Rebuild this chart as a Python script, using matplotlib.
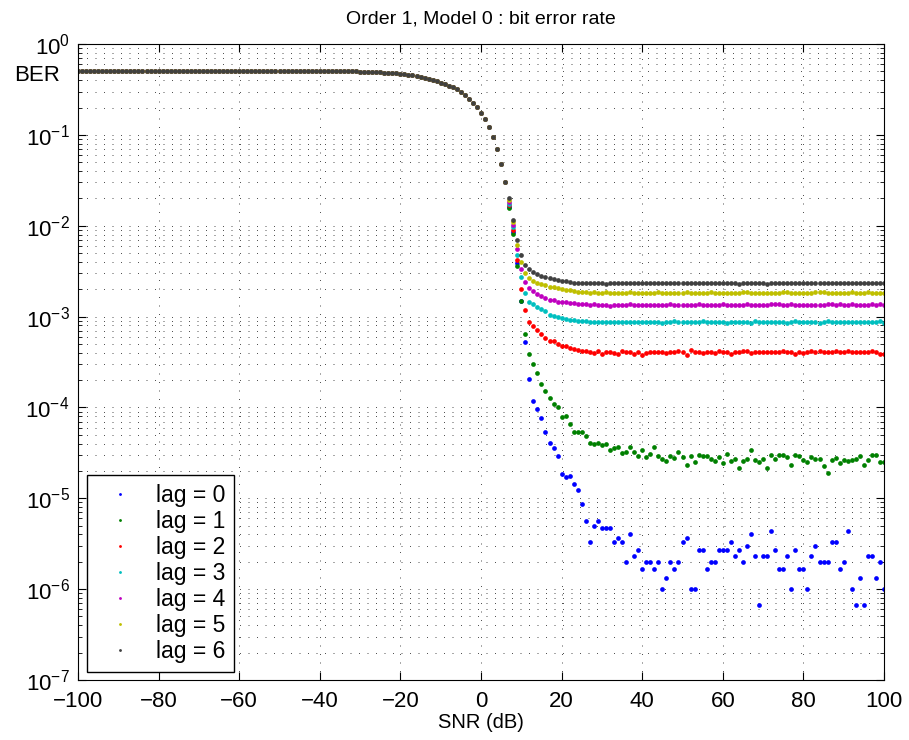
import numpy as np
import matplotlib
matplotlib.use('Agg')
from matplotlib import pyplot as plt
from matplotlib.ticker import NullFormatter

plt.rcParams['font.family'] = ['Liberation Sans', 'DejaVu Sans']

snr = list(range(-100, 101))

# BER comun a todos los lags, SNR -100 .. 6 dB
ber_comun = [
    0.5, 0.5, 0.5, 0.5, 0.5, 0.5, 0.5, 0.5, 0.5, 0.5,
    0.5, 0.5, 0.5, 0.5, 0.5, 0.5, 0.5, 0.5, 0.5, 0.5,
    0.5, 0.5, 0.5, 0.5, 0.5, 0.5, 0.5, 0.5, 0.5, 0.5,
    0.5, 0.5, 0.5, 0.5, 0.5, 0.5, 0.5, 0.5, 0.5, 0.5,
    0.5, 0.5, 0.5, 0.5, 0.5, 0.5, 0.5, 0.5, 0.5, 0.5,
    0.5, 0.5, 0.5, 0.5, 0.5, 0.5, 0.5, 0.5, 0.5, 0.5,
    0.5, 0.5, 0.5, 0.5, 0.5, 0.5, 0.5, 0.5, 0.5, 0.5,
    0.497, 0.496, 0.494, 0.492, 0.490, 0.488, 0.485, 0.482, 0.478, 0.474,
    0.470, 0.465, 0.460, 0.454, 0.447, 0.437, 0.426, 0.414, 0.400, 0.389,
    0.375, 0.363, 0.348, 0.335, 0.318, 0.298, 0.275, 0.250, 0.226, 0.201,
    0.176, 0.149, 0.121, 0.094, 0.070, 0.048, 0.0305,
]

# cada lag, SNR 7 .. 100 dB (valores escalados)
lag0 = [  # x1e-6
    16200, 8600, 3900, 1500, 530, 205, 118, 96, 76, 53,
    41, 36, 29, 18.6, 17.1, 17.5,
    14.2, 12.3, 8.67, 5.67, 3.33, 5.0, 5.67, 4.67, 4.67, 4.67,
    3.33, 3.67, 3.33, 2.0, 4.0, 2.33, 2.67, 1.67, 2.0, 2.0,
    1.67, 2.0, 1.0, 1.33, 2.0, 1.67, 2.0, 3.33, 3.67, 1.0,
    1.0, 2.67, 2.67, 1.67, 2.0, 2.0, 2.67, 2.67, 2.67, 3.33,
    2.33, 2.67, 2.0, 3.0, 4.0, 2.33, 0.667, 2.33, 2.33, 4.33,
    2.67, 1.67, 1.67, 2.33, 1.0, 2.67, 1.67, 1.67, 1.0, 2.33,
    3.0, 2.0, 2.0, 2.0, 3.33, 3.33, 1.67, 2.0, 4.33, 1.0,
    0.667, 1.33, 0.667, 2.33, 2.33, 1.33, 2.0, 1.0,
]
lag1 = [  # x1e-5
    1570, 810, 360, 150, 65, 39, 30, 24, 18.2, 15.0,
    12.8, 11.0, 10.0, 7.8, 8.1, 6.6,
    5.43, 5.43, 5.3, 4.8, 4.05, 3.98, 4.04, 3.85, 3.95, 3.36,
    3.56, 3.66, 3.14, 3.27, 3.66, 3.27, 2.91, 3.37, 2.84, 3.06,
    3.66, 2.94, 2.74, 2.59, 2.91, 2.77, 3.21, 2.84, 2.32, 2.91,
    2.49, 3.03, 2.91, 2.9, 2.74, 2.58, 2.83, 2.43, 3.07, 2.58,
    2.7, 2.13, 2.59, 2.7, 3.4, 2.66, 2.5, 2.7, 2.13, 2.96,
    2.7, 3.0, 3.0, 2.85, 2.3, 3.03, 2.9, 2.66, 2.5, 2.85,
    2.7, 2.7, 2.25, 1.9, 2.66, 2.75, 2.43, 2.66, 2.6, 2.62,
    2.7, 2.9, 2.3, 2.62, 3.0, 3.0, 2.5, 2.5,
]
lag2 = [  # x1e-4
    169, 90, 42, 20.2, 11.9, 8.7, 7.8, 7.1, 6.5, 5.8,
    5.4, 5.4, 5.05, 4.8, 4.7, 4.5,
    4.45, 4.27, 4.23, 4.23, 4.12, 3.95, 4.23, 3.92, 4.12, 4.12,
    3.98, 3.88, 4.23, 4.10, 4.12, 3.87, 4.12, 3.76, 3.95, 4.12,
    4.05, 4.10, 4.12, 4.00, 4.05, 4.12, 4.15, 4.12, 3.76, 4.27,
    4.10, 4.12, 4.00, 4.12, 4.12, 3.95, 4.20, 4.05, 4.10, 3.90,
    4.12, 4.10, 4.15, 4.20, 3.95, 4.10, 4.05, 4.12, 4.12, 4.05,
    4.10, 4.12, 4.15, 4.05, 4.10, 3.92, 4.10, 3.95, 4.12, 4.15,
    4.12, 4.15, 4.05, 4.12, 4.10, 4.15, 4.12, 4.05, 4.15, 4.12,
    4.10, 4.12, 4.05, 4.12, 4.15, 4.05, 3.92, 3.90,
]
lag3 = [  # x1e-4
    175, 96, 48, 27.3, 18.0, 14.3, 13.6, 12.7, 12.1, 11.5,
    10.4, 10.2, 9.9, 9.7, 9.4, 9.1,
    9.1, 9.0, 8.9, 8.9, 8.8, 8.8, 8.7, 8.8, 8.8, 8.7,
    8.8, 8.8, 8.7, 8.8, 8.7, 8.8, 8.8, 8.7, 8.8, 8.8,
    8.7, 8.8, 8.6, 8.8, 8.7, 8.9, 8.8, 8.8, 8.7, 8.8,
    8.8, 8.8, 8.9, 8.8, 8.7, 8.8, 8.7, 8.7, 8.6, 8.7,
    8.8, 8.8, 8.7, 8.8, 8.6, 8.9, 8.8, 8.7, 8.8, 8.7,
    8.8, 8.7, 8.7, 8.6, 8.8, 8.9, 8.8, 8.8, 8.7, 8.8,
    8.7, 8.6, 8.8, 8.9, 8.8, 8.8, 8.7, 8.7, 8.8, 8.8,
    8.7, 8.8, 8.8, 8.7, 8.8, 8.8, 8.9, 8.6,
]
lag4 = [  # x1e-3
    18.3, 10.2, 5.5, 3.35, 2.40, 2.05, 1.92, 1.76, 1.68, 1.59,
    1.54, 1.52, 1.46, 1.46, 1.45, 1.41,
    1.40, 1.38, 1.38, 1.36, 1.35, 1.36, 1.34, 1.34, 1.35, 1.31,
    1.35, 1.34, 1.35, 1.34, 1.36, 1.34, 1.35, 1.35, 1.33, 1.35,
    1.34, 1.35, 1.35, 1.35, 1.36, 1.34, 1.35, 1.35, 1.34, 1.35,
    1.35, 1.37, 1.34, 1.34, 1.35, 1.34, 1.35, 1.36, 1.34, 1.34,
    1.35, 1.34, 1.34, 1.36, 1.34, 1.34, 1.33, 1.34, 1.34, 1.37,
    1.36, 1.36, 1.35, 1.35, 1.36, 1.34, 1.35, 1.34, 1.34, 1.35,
    1.34, 1.33, 1.35, 1.37, 1.36, 1.35, 1.36, 1.35, 1.34, 1.37,
    1.35, 1.34, 1.35, 1.35, 1.36, 1.35, 1.36, 1.33,
]
lag5 = [  # x1e-3
    19.3, 10.9, 6.2, 4.03, 3.05, 2.69, 2.49, 2.37, 2.27, 2.23,
    2.11, 2.10, 2.05, 2.00, 1.98, 1.96,
    1.90, 1.88, 1.86, 1.85, 1.84, 1.86, 1.82, 1.84, 1.85, 1.84,
    1.84, 1.84, 1.81, 1.84, 1.85, 1.84, 1.84, 1.83, 1.84, 1.84,
    1.84, 1.85, 1.84, 1.84, 1.84, 1.83, 1.84, 1.84, 1.87, 1.84,
    1.83, 1.84, 1.84, 1.84, 1.85, 1.84, 1.84, 1.84, 1.83, 1.84,
    1.84, 1.81, 1.85, 1.85, 1.84, 1.84, 1.84, 1.83, 1.84, 1.84,
    1.84, 1.83, 1.85, 1.85, 1.84, 1.84, 1.84, 1.82, 1.84, 1.84,
    1.86, 1.85, 1.85, 1.84, 1.84, 1.84, 1.82, 1.84, 1.84, 1.85,
    1.84, 1.84, 1.84, 1.85, 1.84, 1.84, 1.84, 1.84,
]
lag6 = [  # x1e-3
    20.1, 11.6, 7.0, 4.8, 3.7, 3.35, 3.08, 2.92, 2.78, 2.75,
    2.65, 2.58, 2.53, 2.45, 2.45, 2.38,
    2.36, 2.35, 2.34, 2.33, 2.34, 2.33, 2.32, 2.33, 2.29, 2.33,
    2.34, 2.33, 2.33, 2.32, 2.33, 2.34, 2.33, 2.33, 2.32, 2.33,
    2.35, 2.33, 2.33, 2.34, 2.33, 2.32, 2.33, 2.33, 2.34, 2.33,
    2.33, 2.37, 2.33, 2.32, 2.33, 2.33, 2.34, 2.33, 2.35, 2.35,
    2.33, 2.30, 2.33, 2.33, 2.34, 2.32, 2.33, 2.33, 2.31, 2.33,
    2.33, 2.34, 2.33, 2.33, 2.33, 2.32, 2.34, 2.33, 2.33, 2.35,
    2.35, 2.33, 2.33, 2.34, 2.33, 2.32, 2.33, 2.33, 2.33, 2.34,
    2.33, 2.33, 2.33, 2.34, 2.33, 2.34, 2.33, 2.34,
]

lags = [lag0, lag1, lag2, lag3, lag4, lag5, lag6]
escalas = [1e-6, 1e-5, 1e-4, 1e-4, 1e-3, 1e-3, 1e-3]
colores = [(0, 0, 1), (0, 0.5, 0), (1, 0, 0), (0, 0.75, 0.75),
           (0.75, 0, 0.75), (0.75, 0.75, 0), (0.25, 0.25, 0.25)]
etiquetas = ['lag = 0', 'lag = 1', 'lag = 2', 'lag = 3',
             'lag = 4', 'lag = 5', 'lag = 6']

fig = plt.figure(figsize=(9.09, 7.40), dpi=100)
ax = fig.add_axes([78 / 909, 1 - 680 / 740, 806 / 909, 636 / 740])

for i in range(len(lags)):
    ber = np.concatenate([ber_comun, np.array(lags[i]) * escalas[i]])
    ax.plot(snr, ber, linestyle='none', marker='o', markersize=3.4,
            markeredgewidth=0, color=colores[i], label=etiquetas[i])

ax.set_yscale('log')
ax.set_xlim(-100, 100)
ax.set_ylim(1e-7, 1)
ax.set_xticks(range(-100, 101, 20))
ax.yaxis.set_minor_formatter(NullFormatter())

punteado = (0, (1.2, 9))
ax.grid(True, which='major', axis='x', color='#333333', linewidth=0.6, linestyle=punteado)
ax.grid(True, which='both', axis='y', color='#333333', linewidth=0.6, linestyle=punteado)
ax.set_axisbelow(True)

ax.tick_params(which='both', direction='in', top=True, right=True, labelsize=16)
ax.tick_params(which='major', length=6, width=0.8)
ax.tick_params(which='minor', length=3, width=0.6)
ax.tick_params(axis='x', which='minor', bottom=False, top=False)
ax.tick_params(axis='x', pad=8)
ax.tick_params(axis='y', pad=6)
for s in ax.spines.values():
    s.set_linewidth(0.8)

ax.set_title('Order 1, Model 0 : bit error rate', fontsize=14, pad=15)
ax.set_xlabel('SNR (dB)', fontsize=14.5, labelpad=1)
ax.set_ylabel('BER', fontsize=16, rotation=0, va='center')
ax.yaxis.set_label_coords(-0.051, 0.951)

leg = ax.legend(loc='lower left', bbox_to_anchor=(0.011, 0.0126), borderaxespad=0,
                fontsize=16.5, markerscale=0.6, fancybox=False, framealpha=1,
                edgecolor='k', labelspacing=0.13, handlelength=2.1,
                handletextpad=0.5, borderpad=0.4)
leg.get_frame().set_linewidth(1.0)

plt.savefig('out.png', dpi=100)
plt.close()
